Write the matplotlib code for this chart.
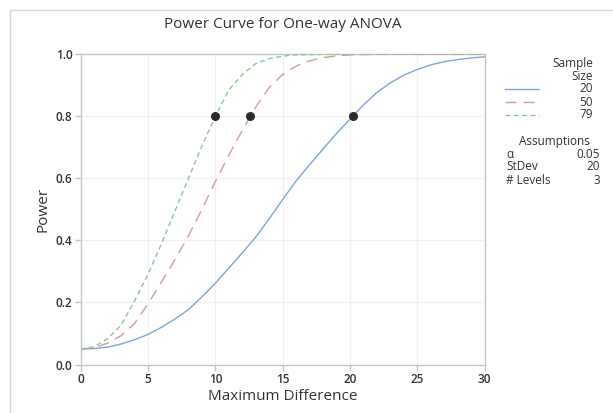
import matplotlib
matplotlib.use("Agg")
import matplotlib.pyplot as plt
from matplotlib.lines import Line2D

plt.rcParams['font.family'] = ['Open Sans', 'DejaVu Sans']

# ---- data ----
max_diff = [0, 1, 2, 3, 4, 5, 6, 7, 8, 9, 10, 11, 12, 13, 14, 15,
            16, 17, 18, 19, 20, 21, 22, 23, 24, 25, 26, 27, 28, 29, 30]

power_n20 = [0.050, 0.0515, 0.056, 0.066, 0.080, 0.097, 0.120, 0.147, 0.177, 0.218,
             0.262, 0.311, 0.360, 0.411, 0.470, 0.532, 0.592, 0.644, 0.695, 0.745,
             0.791, 0.837, 0.877, 0.908, 0.933, 0.951, 0.966, 0.976, 0.983, 0.988, 0.992]

power_n50 = [0.050, 0.054, 0.069, 0.093, 0.132, 0.196, 0.266, 0.338, 0.415, 0.500,
             0.590, 0.675, 0.755, 0.830, 0.893, 0.935, 0.962, 0.979, 0.989, 0.995,
             0.998, 0.999, 1.000, 1.000, 1.000, 1.000, 1.000, 1.000, 1.000, 1.000, 1.000]

power_n79 = [0.050, 0.057, 0.083, 0.127, 0.205, 0.291, 0.390, 0.495, 0.600, 0.705,
             0.800, 0.885, 0.935, 0.970, 0.986, 0.994, 0.998, 0.999, 1.000, 1.000,
             1.000, 1.000, 1.000, 1.000, 1.000, 1.000, 1.000, 1.000, 1.000, 1.000, 1.000]

sample_sizes = ["20", "50", "79"]
target_diff = [20.2, 12.55, 9.95]
target_power = [0.8, 0.8, 0.8]

assump_labels = ["\u03b1", "StDev", "# Levels"]
assump_values = ["0.05", "20", "3"]

x_ticks = [0, 5, 10, 15, 20, 25, 30]
y_ticks = [0.0, 0.2, 0.4, 0.6, 0.8, 1.0]

# ---- styling ----
c_blue = "#7ea6d8"
c_red = "#d69a9a"
c_green = "#8cc68c"
grey_txt = "#333333"
spine_c = "#c4c4c4"

fig = plt.figure(figsize=(6.13, 4.13), dpi=100)
ax = fig.add_axes([0.1317, 0.1174, 0.659, 0.7512])

ax.plot(max_diff, power_n20, color=c_blue, lw=1.0, ls='-', zorder=3)
ax.plot(max_diff, power_n50, color=c_red, lw=1.0, ls=(0, (8, 5)), zorder=3)
ax.plot(max_diff, power_n79, color=c_green, lw=1.0, ls=(0, (3.5, 2.5)), zorder=3)
ax.scatter(target_diff, target_power, s=30, color="#2a2a2a", zorder=4)

ax.set_xlim(0, 30)
ax.set_ylim(0, 1)
ax.set_xticks(x_ticks)
ax.set_yticks(y_ticks)
ax.set_yticklabels([f"{v:.1f}" for v in y_ticks])
ax.grid(True, color="#f0f0f0", lw=0.8, zorder=0)
for s in ax.spines.values():
    s.set_color(spine_c)
    s.set_linewidth(1.0)
ax.tick_params(axis='both', colors=spine_c, length=4, width=1.0,
               labelcolor=grey_txt, labelsize=8.5, pad=2)
for lab in ax.get_xticklabels() + ax.get_yticklabels():
    lab.set_fontweight('semibold')

ax.set_title("Power Curve for One-way ANOVA", fontsize=11, color=grey_txt, pad=19)
ax.set_xlabel("Maximum Difference", fontsize=11, color=grey_txt, labelpad=2)
ax.set_ylabel("Power", fontsize=11, color=grey_txt, labelpad=4)

# ---- legend (drawn in figure pixel coordinates) ----
W, H = 613, 413
def fx(px):
    return px / W
def fy(py):
    return 1 - py / H

leg_fs = 8.5
fig.text(fx(593), fy(63), "Sample", ha='right', va='center', fontsize=leg_fs, color=grey_txt)
fig.text(fx(593), fy(76), "Size", ha='right', va='center', fontsize=leg_fs, color=grey_txt)
styles = [('-', c_blue), ((0, (8, 5)), c_red), ((0, (3.5, 2.5)), c_green)]
for i, (lbl, (ls, c)) in enumerate(zip(sample_sizes, styles)):
    yy = 89 + i * 13
    fig.add_artist(Line2D([fx(505), fx(539)], [fy(yy), fy(yy)], color=c, lw=1.0, ls=ls))
    fig.text(fx(593), fy(yy), lbl, ha='right', va='center', fontsize=leg_fs, color=grey_txt)

fig.text(fx(554), fy(141), "Assumptions", ha='center', va='center', fontsize=leg_fs, color=grey_txt)
for i, (a, v) in enumerate(zip(assump_labels, assump_values)):
    yy = 154 + i * 13
    fig.text(fx(506), fy(yy), a, ha='left', va='center', fontsize=leg_fs, color=grey_txt)
    fig.text(fx(600), fy(yy), v, ha='right', va='center', fontsize=leg_fs, color=grey_txt)

# figure frame (left and top edges visible)
fig.add_artist(Line2D([fx(9.5), fx(9.5)], [fy(10), fy(413)], color="#d6d6d6", lw=1.0))
fig.add_artist(Line2D([fx(9.5), fx(613)], [fy(10), fy(10)], color="#d6d6d6", lw=1.0))

fig.savefig("out.png", dpi=100)
